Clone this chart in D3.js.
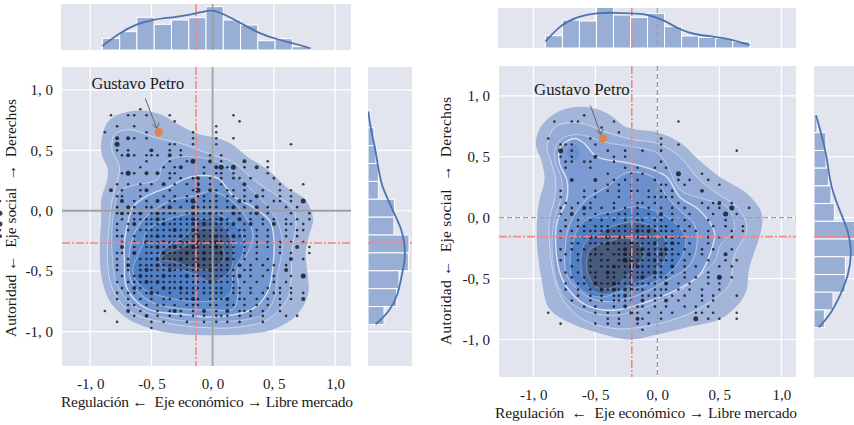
<!DOCTYPE html>
<html>
<head>
<meta charset="utf-8">
<script src="https://cdn.jsdelivr.net/npm/d3@7"></script>
<style>
  body { margin: 0; background: #fff; overflow: hidden; }
  text { font-family: "Liberation Serif", serif; fill: #1a1a1a; }
</style>
</head>
<body>
<svg id="chart" width="854" height="425"></svg>
<script>
// lattice of the survey answers
const gridX = [-0.88,-0.83,-0.78,-0.74,-0.69,-0.64,-0.59,-0.54,-0.50,-0.45,-0.40,-0.35,-0.31,-0.26,-0.21,-0.16,-0.12,-0.07,-0.02,0.03,0.07,0.12,0.17,0.22,0.26,0.31,0.36,0.41,0.45,0.50,0.55,0.60,0.64,0.69,0.74,0.79];
const gridY = [0.84,0.79,0.74,0.70,0.65,0.60,0.55,0.50,0.46,0.41,0.36,0.31,0.27,0.22,0.17,0.12,0.08,0.03,-0.02,-0.07,-0.11,-0.16,-0.21,-0.26,-0.30,-0.35,-0.40,-0.45,-0.49,-0.54,-0.59,-0.64,-0.68,-0.73,-0.78,-0.83,-0.87,-0.92,-0.97];

// answers per lattice cell, one string per gridY row ('.' = nobody)
const leftCounts = [
  "......1",
  ".1..11.1...1..........1",
  "............1..........1",
  "..1..1.............1",
  "1......1.1.....1...1",
  "..2.21.1.......1...1..1",
  "..3........11..1...1............1",
  "..1.1...2..1.1",
  "...121.111.2.1....1.1",
  ".......1...1..13..2.1...2...1",
  "......1...1.12...1.2313.1.2.1",
  "...131.2.2.11....1.11.1.....1",
  "...........1.1.12.1.1.11.1...1",
  "..1.1.1.1.2.1.1.2.1.1...2.....1...1",
  ".2.1..12...1...13.21.11.1..1..1.1",
  "..11..1...1.1.1.11.1.11.1.21..1.1",
  "...2.1.1.2.11.13.111.1.211...11.1.3.1",
  "..1.21.11.12.1.21111.12.1.2.1..1.1",
  "..12112.12111.1211211.21.12.1...1..1.3",
  "...1.111121.1112111121.2.1.1.1.1.1.1",
  "..1.12.1112111121211112.12.1.2.11.1.3",
  "..1.1.1111112112111111.11.1.1..1.11.1",
  "..11.1.112111211211211211.1.1..1.1..2",
  "...1.1.2112112112112211.1.1.1.1.1.1",
  "...2.1.1121121121112111.1.1.1.1..2.1",
  "..11.2.1112111211211211.1.1...1.1..1",
  "..1.1.11121112111211121.1.1.1...2.1",
  "..1.2.1112111111211111.2.1.1.1.1",
  "..1.1.12111211111121111.11..1..2",
  "...1.1211121112111111112.1.1.1..1.3",
  "..1.1112121111111121111.1.1..1.1",
  "...1.21.1.21121111111.11.1..1.1.1",
  "..1.11.121.1.111.1111.11.1.1.11.1.1",
  "..1.1.1.1.11.1121.1112.11.1.1.1.1.2",
  "....11.1.11.1.111.11.11.1.1.1.1",
  "1...2.1..1.121.1.2.1.2.111.1..1",
  ".....1.2.1.1.1.1.1.111.1.1.1...1.1",
  "..1.....1.1...1..1.1.1.1...1",
  "........1"
];
const rightCounts = [
  "......1",
  ".1..11.....1..........1",
  ".........1",
  "............1",
  "1......1...........1",
  "..111...1..........1..1",
  "..3.1.....1..1..1..1............1",
  "..1.1...2..1.1",
  "...11.11...1.......1",
  "...1...1.....1.1..1.1",
  "..........1...1.1.....3...1",
  "....2...2..1.1.1..1...1.1..1",
  "..........1.1.1....11..1.....1",
  "..1...1.1.1.1.11.1.1.1....2",
  "..1...1.1...1.1..11111",
  "...1.1.1...1...11.1...1...1.12.1",
  "..1.1.21.1.1.1.1.1.1.1.1...1.1.3..1",
  "..1.2.1.1.1.11.1.1.2.1..1...1.3.1",
  "...1.1.1.1.1.1.11.11.1.1...1..1",
  "...1.11.111.111111111.1.1...1.1..1",
  "..1.1.1111211112121111.1.1.1...1.1",
  "..1.1.1211212111211.1211...1.1.1",
  "....11.111211121112.121.1..1",
  "..1.1.1.1.1.1211211121.1..1.1..1",
  "...1.1.111.112211212111.1.1...2",
  "..1..1.1.11.1321112111.1...1..1.1",
  "....1..1.11211321111.2.1.1...1.1",
  "...1.1.11.21.1211121.1.1...1",
  "....1.1.1.11.1212.111..1.1.1.3.1",
  "...1.11.21121121111.2.1.1..1.1",
  "...1.1.1.21212211.111.1.1.1..1",
  ".....1.1.1.1121.1111.1.1..1.1...1",
  "....1..1.1.1111.2.1.2.1...1.1",
  "......1.1..1.2.11.1.1..1.1.1",
  "1.......1.1.1.21.1.1.1...11.1...1",
  "..........1.1..21..1.....3.1.1..1",
  "..1.....1.1.1..1.1",
  "................1",
  ""
];

// histograms and marginal kde curves (counts)
const leftTopBins = [35,55,98,77,90,97,130,90,75,28,34,10];
const leftSideBins = [6,18,24,31,31,79,78,123,121,93,86,48];
const rightTopBins = [37,84,81,122,99,92,104,64,36,32,29,19];
const rightSideBins = [9,36,36,44,51,61,125,125,94,94,57,31];
const leftTopKde = [[-.90,12],[-.758,52],[-.621,78],[-.485,92],[-.321,98],[-.184,105],[-.048,118],[.007,120],[.089,108],[.226,82],[.376,50],[.526,32],[.663,20],[.80,5]];
const leftSideKde = [[.82,1],[.68,8],[.53,21],[.38,29],[.20,41],[.06,66],[-.01,76],[-.15,101],[-.28,111],[-.42,111],[-.53,101],[-.69,91],[-.83,66],[-.94,23]];
const rightTopKde = [[-.903,19],[-.782,69],[-.648,94],[-.486,106],[-.352,106],[-.218,104],[-.083,102],[.052,84],[.186,54],[.293,41],[.455,34],[.562,29],[.745,9]];
const rightSideKde = [[.843,6],[.665,24],[.50,39],[.255,49],[.047,79],[-.117,104],[-.28,114],[-.47,104],[-.637,79],[-.80,49],[-.90,14]];

// density levels, outermost first, in axis units
const leftLevels = [
  [[-.91,.56],[-.86,.73],[-.76,.80],[-.57,.83],[-.41,.79],[-.29,.72],[-.13,.64],[0,.61],[.14,.56],[.28,.45],[.45,.34],[.61,.19],[.76,.09],[.82,-.07],[.78,-.23],[.76,-.36],[.78,-.56],[.78,-.69],[.69,-.86],[.50,-.98],[.28,-1.02],[0,-1.03],[-.27,-1.02],[-.49,-.98],[-.70,-.89],[-.84,-.75],[-.91,-.53],[-.92,-.28],[-.91,-.07],[-.91,.09],[-.86,.26],[-.86,.36],[-.90,.45]],
  [[-.82,.50],[-.80,.63],[-.68,.67],[-.45,.60],[-.27,.56],[0,.46],[.17,.40],[.33,.26],[.53,.12],[.66,.01],[.68,-.12],[.65,-.31],[.64,-.56],[.61,-.73],[.45,-.90],[.23,-.96],[0,-.97],[-.37,-.93],[-.68,-.83],[-.82,-.64],[-.86,-.36],[-.84,-.09],[-.82,.09],[-.76,.36]],
  [[-.80,.03],[-.76,.16],[-.65,.21],[-.45,.26],[-.41,.38],[-.31,.44],[-.10,.44],[.09,.38],[.18,.30],[.33,.16],[.45,.03],[.53,-.09],[.57,-.28],[.53,-.53],[.50,-.73],[.41,-.86],[0,-.92],[-.37,-.89],[-.65,-.78],[-.78,-.61],[-.82,-.36],[-.82,-.12]],
  [[-.72,-.42],[-.70,-.64],[-.54,-.81],[-.21,-.86],[0,-.88],[.33,-.81],[.45,-.67],[.49,-.48],[.50,-.23],[.47,-.09],[.33,.03],[.17,.12],[.04,.27],[-.18,.28],[-.35,.20],[-.54,.12],[-.65,.03],[-.69,-.09],[-.72,-.26]],
  [[-.62,-.15],[-.68,-.36],[-.66,-.59],[-.51,-.75],[-.27,-.81],[0,-.82],[.17,-.81],[.21,-.64],[.20,-.48],[.28,-.36],[.33,-.20],[.28,-.07],[.17,.07],[0,.16],[-.16,.12],[-.32,.09],[-.51,-.02]],
  [[-.57,-.28],[-.65,-.50],[-.57,-.64],[-.32,-.73],[-.05,-.75],[.14,-.69],[.17,-.50],[.25,-.34],[.23,-.17],[.12,-.07],[-.02,-.01],[-.21,-.03],[-.41,-.09],[-.54,-.17]],
  [[-.43,-.36],[-.41,-.46],[-.21,-.50],[0,-.59],[.14,-.50],[.17,-.34],[.14,-.20],[.04,-.09],[-.10,-.07],[-.21,-.20],[-.35,-.28]],
  [[-.14,-.17],[-.02,-.15],[.06,-.26],[.09,-.40],[0,-.48],[-.13,-.48],[-.32,-.42],[-.43,-.40],[-.35,-.34],[-.21,-.28]]
];
const rightLevels = [
  [[-.98,.61],[-.93,.76],[-.78,.88],[-.59,.91],[-.41,.86],[-.24,.74],[0,.70],[.18,.62],[.34,.47],[.51,.33],[.72,.20],[.84,.04],[.84,-.09],[.79,-.26],[.74,-.42],[.72,-.59],[.67,-.69],[.51,-.83],[.24,-.90],[0,-.96],[-.22,-1.00],[-.46,-.95],[-.67,-.88],[-.87,-.75],[-.93,-.53],[-.97,-.22],[-.97,-.01],[-.95,.15],[-.91,.31],[-.93,.45]],
  [[-.89,.58],[-.83,.74],[-.70,.78],[-.59,.77],[-.41,.70],[-.19,.64],[0,.61],[.18,.50],[.32,.33],[.48,.20],[.64,.09],[.72,-.06],[.71,-.14],[.62,-.31],[.58,-.55],[.38,-.72],[.18,-.82],[-.14,-.90],[-.35,-.91],[-.59,-.84],[-.75,-.69],[-.83,-.50],[-.87,-.20],[-.87,-.01],[-.83,.15],[-.82,.31],[-.86,.47]],
  [[-.82,.58],[-.75,.66],[-.62,.68],[-.43,.62],[-.19,.58],[0,.53],[.08,.43],[.18,.23],[.38,.15],[.56,.09],[.62,-.09],[.51,-.22],[.46,-.36],[.32,-.49],[.13,-.63],[-.14,-.75],[-.35,-.80],[-.57,-.77],[-.73,-.67],[-.81,-.53],[-.85,-.22],[-.83,-.03],[-.78,.15],[-.77,.31],[-.82,.45]],
  [[-.78,.58],[-.67,.65],[-.59,.61],[-.49,.50],[-.24,.45],[-.03,.39],[.08,.33],[.18,.17],[.34,.06],[.46,-.12],[.42,-.31],[.34,-.47],[.16,-.59],[-.08,-.69],[-.35,-.76],[-.57,-.72],[-.70,-.61],[-.78,-.47],[-.82,-.22],[-.81,-.04],[-.73,.15],[-.73,.31],[-.79,.45]],
  [[-.57,.15],[-.41,.25],[-.24,.37],[-.03,.33],[.08,.17],[.18,.06],[.30,-.06],[.32,-.22],[.26,-.39],[.10,-.50],[-.14,-.63],[-.41,-.69],[-.59,-.63],[-.73,-.47],[-.74,-.22],[-.70,-.04]],
  [[-.62,-.06],[-.70,-.31],[-.67,-.53],[-.49,-.65],[-.24,-.59],[-.03,-.53],[.13,-.42],[.22,-.26],[.22,-.14],[.10,-.01],[-.03,.06],[-.19,.09],[-.35,.05],[-.49,.02]],
  [[-.59,-.22],[-.61,-.45],[-.54,-.59],[-.41,-.63],[-.19,-.54],[-.03,-.47],[.08,-.28],[.02,-.12],[-.14,-.04],[-.33,-.06],[-.49,-.14]],
  [[-.54,-.26],[-.57,-.42],[-.49,-.57],[-.35,-.57],[-.22,-.45],[-.11,-.31],[-.16,-.20],[-.27,-.17],[-.41,-.20]]
];
const rightLobe = [[-.73,.53],[-.67,.60],[-.62,.54],[-.67,.47]];

const petro = [-0.44, 0.65];
const tickValues = [-1, -0.5, 0, 0.5, 1];
const xTickLabels = ["-1, 0", "-0, 5", "0, 0", "0, 5", "1,0"];
const yTickLabels = ["-1, 0", "-0, 5", "0, 0", "0, 5", "1, 0"];

const leftColors = ["#a3b6da", "#93abd7", "#83a1d4", "#7196d0", "#608bcb", "#4f7fc4", "#4a6aa2", "#475a7c"];
const rightColors = ["#a3b6da", "#95acd8", "#8aa4d5", "#7d9bd2", "#6a90ce", "#4f7fc4", "#4a6ca6", "#475a7c"];
const levelStrokes = [0, 0.7, 0.6, 1.4, 0.7, 0.5, 0.4, 0.4];
const bg = "#e2e5ee", blue = "#4c72b0", red = "#f78787", grey = "#a0a0a0";

const svg = d3.select("#chart");

function addClip(id, x, y, w, h) {
  svg.append("clipPath").attr("id", id).append("rect")
    .attr("x", x).attr("y", y).attr("width", w).attr("height", h);
  return "url(#" + id + ")";
}

function drawPanel(p) {

  let x = d3.scaleLinear().domain(p.xDomain).range(p.xRange);
  let y = d3.scaleLinear().domain(p.yDomain).range(p.yRange);
  let w = p.xRange[1] - p.xRange[0], h = p.yRange[1] - p.yRange[0];

  // main axes background and grid
  let main = svg.append("g");
  main.append("rect").attr("x", p.xRange[0]).attr("y", p.yRange[0])
    .attr("width", w).attr("height", h).attr("fill", bg);
  main.selectAll("line.gx").data(tickValues).enter().append("line")
    .attr("x1", x).attr("x2", x).attr("y1", p.yRange[0]).attr("y2", p.yRange[1])
    .attr("stroke", "#fff").attr("stroke-width", 1.2);
  main.selectAll("line.gy").data(tickValues).enter().append("line")
    .attr("y1", y).attr("y2", y).attr("x1", p.xRange[0]).attr("x2", p.xRange[1])
    .attr("stroke", "#fff").attr("stroke-width", 1.2);

  // density levels
  let contour = d3.line().x(d => x(d[0])).y(d => y(d[1])).curve(d3.curveCatmullRomClosed.alpha(0.5));
  main.selectAll("path.level").data(p.levels).enter().append("path")
    .attr("d", contour)
    .attr("fill", (d, i) => p.colors[i])
    .attr("stroke", (d, i) => levelStrokes[i] ? "#fff" : "none")
    .attr("stroke-opacity", 0.7)
    .attr("stroke-width", (d, i) => levelStrokes[i]);
  if (p.lobe) {
    main.append("path").attr("d", contour(p.lobe)).attr("fill", p.colors[4]);
  }

  // respondents
  let size = d3.scaleSqrt().domain([1, 3]).range([1.3, 2.5]);
  let points = [];
  p.counts.forEach(function(row, r) {
    row.split("").forEach(function(c, k) {
      if (c !== ".") points.push([gridX[k], gridY[r], +c]);
    });
  });
  main.selectAll("circle.point").data(points).enter().append("circle")
    .attr("cx", d => x(d[0])).attr("cy", d => y(d[1])).attr("r", d => size(d[2]))
    .attr("fill", "#10121c").attr("fill-opacity", 0.8);

  // reference lines
  let vline = (g, v, y0, y1, col, dash, sw) => g.append("line")
    .attr("x1", x(v)).attr("x2", x(v)).attr("y1", y0).attr("y2", y1)
    .attr("stroke", col).attr("stroke-width", sw).attr("stroke-dasharray", dash);
  let hline = (g, v, x0, x1, col, dash, sw) => g.append("line")
    .attr("y1", y(v)).attr("y2", y(v)).attr("x1", x0).attr("x2", x1)
    .attr("stroke", col).attr("stroke-width", sw).attr("stroke-dasharray", dash);

  vline(main, 0, p.yRange[0], p.yRange[1], grey, p.zeroDash, p.zeroWidth);
  hline(main, 0, p.xRange[0], p.xRange[1], grey, p.zeroDash, p.zeroWidth);
  vline(main, p.meanX, p.yRange[0], p.yRange[1], red, "8,2,2,2", 1.6);
  hline(main, p.meanY, p.xRange[0], p.xRange[1], red, "8,2,2,2", 1.6);

  // annotation
  main.append("line")
    .attr("x1", x(p.arrowFrom[0])).attr("y1", y(p.arrowFrom[1]))
    .attr("x2", x(petro[0]) - 2).attr("y2", y(petro[1]) - 4)
    .attr("stroke", "#666").attr("stroke-width", 1);
  let ax = x(petro[0]) - 2, ay = y(petro[1]) - 4;
  main.append("path")
    .attr("d", d3.line()([[ax - 4.5, ay - 4], [ax, ay], [ax + 2.5, ay - 5.5]]))
    .attr("fill", "none").attr("stroke", "#666").attr("stroke-width", 1);
  main.append("circle").attr("cx", x(petro[0])).attr("cy", y(petro[1])).attr("r", 4.2).attr("fill", "#dd8452");
  main.append("text").attr("x", x(p.labelAt[0])).attr("y", y(p.labelAt[1]))
    .attr("font-size", p.labelSize).text("Gustavo Petro");

  // tick labels
  let xAxis = d3.axisBottom(x).tickValues(tickValues).tickSize(0).tickFormat((d, i) => xTickLabels[i]);
  let yAxis = d3.axisLeft(y).tickValues(tickValues).tickSize(0).tickFormat((d, i) => yTickLabels[i]);
  let gx = svg.append("g").attr("transform", "translate(0," + p.yRange[1] + ")").call(xAxis);
  let gy = svg.append("g").attr("transform", "translate(" + p.xRange[0] + ",0)").call(yAxis);
  gx.select(".domain").remove();
  gy.select(".domain").remove();
  gx.selectAll("text").attr("font-size", 15).attr("y", p.xTickY).attr("dy", 0).style("font-family", "Liberation Serif").attr("fill", "#1a1a1a");
  gy.selectAll("text").attr("font-size", 15).attr("x", -9).style("font-family", "Liberation Serif").attr("fill", "#1a1a1a");

  // axis titles
  svg.append("text").attr("x", p.xTitle[0]).attr("y", p.xTitle[1]).attr("font-size", 15.5)
    .attr("text-anchor", "middle").attr("textLength", p.xTitleLen).attr("xml:space", "preserve")
    .text(p.xLabel);
  svg.append("text").attr("transform", "translate(" + p.yTitle[0] + "," + p.yTitle[1] + ") rotate(-90)")
    .attr("font-size", 15.5).attr("text-anchor", "middle").attr("textLength", p.yTitleLen).attr("xml:space", "preserve")
    .text("Autoridad \u2190  Eje social  \u2192  Derechos");

  // top marginal
  let topY = d3.scaleLinear().domain([0, p.topMax]).range([p.topRange[1], p.topRange[0]]);
  let top = svg.append("g").attr("clip-path", addClip(p.id + "t", p.xRange[0] - 1, p.topRange[0], w + 1, p.topRange[1] - p.topRange[0]));
  top.append("rect").attr("x", p.xRange[0] - 1).attr("y", p.topRange[0]).attr("width", w + 1)
    .attr("height", p.topRange[1] - p.topRange[0]).attr("fill", bg);
  top.selectAll("line.g").data(tickValues).enter().append("line")
    .attr("x1", x).attr("x2", x).attr("y1", p.topRange[0]).attr("y2", p.topRange[1])
    .attr("stroke", "#fff").attr("stroke-width", 1.2);
  top.selectAll("rect.bar").data(p.topBins).enter().append("rect")
    .attr("x", (d, i) => x(p.topStart + i * p.topStep))
    .attr("width", x(p.topStep) - x(0))
    .attr("y", d => topY(d))
    .attr("height", d => topY(0) - topY(d))
    .attr("fill", "#98aed4").attr("stroke", "#fff").attr("stroke-width", 1);
  vline(top, p.meanX, p.topRange[0], p.topRange[1], red, "8,2,2,2", 1.6);
  vline(top, 0, p.topRange[0], p.topRange[1], grey, p.zeroDash, p.zeroWidth);
  top.append("path")
    .attr("d", d3.line().x(d => x(d[0])).y(d => topY(d[1])).curve(d3.curveBasis)(p.topKde))
    .attr("fill", "none").attr("stroke", blue).attr("stroke-width", 1.8);

  // side marginal
  let sideX = d3.scaleLinear().domain([0, p.sideMax]).range(p.sideRange);
  let side = svg.append("g").attr("clip-path", addClip(p.id + "s", p.sideRange[0], p.yRange[0], p.sideRange[1] - p.sideRange[0], h));
  side.append("rect").attr("x", p.sideRange[0]).attr("y", p.yRange[0])
    .attr("width", p.sideRange[1] - p.sideRange[0]).attr("height", h).attr("fill", bg);
  side.selectAll("line.g").data(tickValues).enter().append("line")
    .attr("y1", y).attr("y2", y).attr("x1", p.sideRange[0]).attr("x2", p.sideRange[1])
    .attr("stroke", "#fff").attr("stroke-width", 1.2);
  side.selectAll("rect.bar").data(p.sideBins).enter().append("rect")
    .attr("y", (d, i) => y(p.sideStart - i * p.sideStep))
    .attr("height", y(0) - y(p.sideStep))
    .attr("x", p.sideRange[0])
    .attr("width", d => sideX(d) - sideX(0))
    .attr("fill", "#98aed4").attr("stroke", "#fff").attr("stroke-width", 1);
  hline(side, p.meanY, p.sideRange[0], p.sideRange[1], red, "8,2,2,2", 1.6);
  side.append("path")
    .attr("d", d3.line().x(d => sideX(d[1])).y(d => y(d[0])).curve(d3.curveBasis)(p.sideKde))
    .attr("fill", "none").attr("stroke", blue).attr("stroke-width", 1.8);
}

drawPanel({
  id: "l", counts: leftCounts, levels: leftLevels, colors: leftColors,
  xDomain: [-1.23, 1.13], xRange: [62, 351],
  yDomain: [1.19, -1.285], yRange: [67, 366],
  zeroDash: null, zeroWidth: 1.8, meanX: -0.135, meanY: -0.267,
  labelAt: [-0.99, 1.008], arrowFrom: [-0.55, 0.93], labelSize: 16.3,
  xTickY: 23, xLabel: "Regulaci\u00f3n \u2190  Eje econ\u00f3mico \u2192 Libre mercado",
  xTitle: [207, 407], xTitleLen: 292, yTitle: [16, 218], yTitleLen: 238,
  topRange: [4, 50], topMax: 138, topBins: leftTopBins, topKde: leftTopKde, topStart: -0.90, topStep: 0.141,
  sideRange: [368, 412], sideMax: 132, sideBins: leftSideBins, sideKde: leftSideKde, sideStart: 0.835, sideStep: 0.148
});

drawPanel({
  id: "r", counts: rightCounts, levels: rightLevels, colors: rightColors, lobe: rightLobe,
  xDomain: [-1.277, 1.118], xRange: [499, 796],
  yDomain: [1.245, -1.308], yRange: [66, 377],
  zeroDash: "5,3", zeroWidth: 1.4, meanX: -0.206, meanY: -0.156,
  labelAt: [-0.994, 1.007], arrowFrom: [-0.54, 0.92], labelSize: 16.8,
  xTickY: 23, xLabel: "Regulaci\u00f3n  \u2190  Eje econ\u00f3mico \u2192 Libre mercado",
  xTitle: [646, 418], xTitleLen: 302, yTitle: [451, 221], yTitleLen: 248,
  topRange: [8, 48], topMax: 120, topBins: rightTopBins, topKde: rightTopKde, topStart: -0.903, topStep: 0.1373,
  sideRange: [814, 854], sideMax: 120, sideBins: rightSideBins, sideKde: rightSideKde, sideStart: 0.843, sideStep: 0.1455
});
</script>
</body>
</html>
